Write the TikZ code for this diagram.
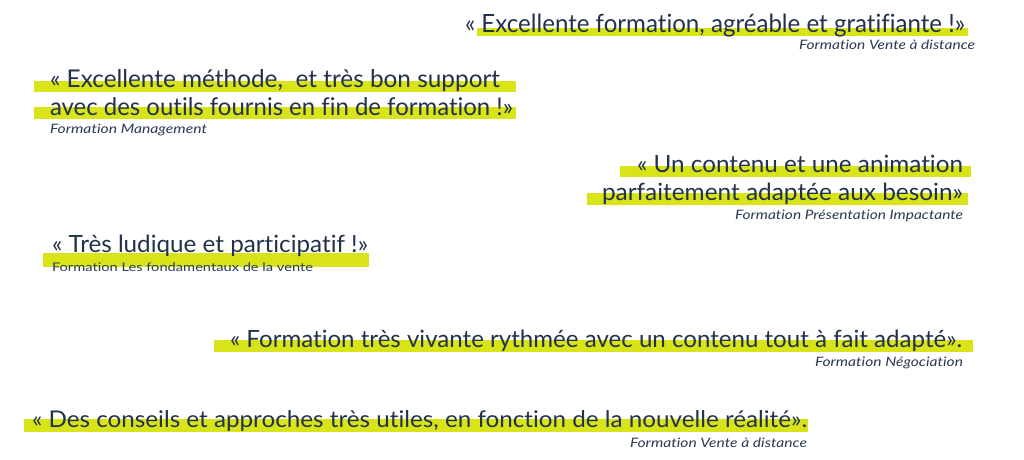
\documentclass[tikz,border=0pt]{standalone}
\usepackage{fontspec}
\setmainfont{Lato}[Ligatures={NoCommon}]
\usepackage{graphicx}
\definecolor{ink}{HTML}{22324C}
\definecolor{capink}{HTML}{2B3A55}
\definecolor{hl}{HTML}{D8E417}
\newcommand\fitt[3]{\resizebox{#1pt}{#2pt}{\vphantom{E}\smash{#3}}}
\tikzset{
  hlbar/.style={fill=hl, draw=none},
  quote/.style={anchor=base west, inner sep=0pt, outer sep=0pt, text=ink},
  source/.style={anchor=base west, inner sep=0pt, outer sep=0pt, text=capink, font=\itshape},
  sourceup/.style={anchor=base west, inner sep=0pt, outer sep=0pt, text=capink},
}
\begin{document}
\begin{tikzpicture}[x=1pt, y=-1pt]
\useasboundingbox (0,0) rectangle (1024,459);
\fill[white] (0,0) rectangle (1024,459);
% highlight bars
\fill[hlbar] (477,28) rectangle (968,35.5);
\fill[hlbar] (34,81) rectangle (516,92);
\fill[hlbar] (34,107) rectangle (516,119);
\fill[hlbar] (620,166) rectangle (971,177);
\fill[hlbar] (587,193) rectangle (968,205);
\fill[hlbar] (43,253) rectangle (369,267);
\fill[hlbar] (214,340) rectangle (973,352);
\fill[hlbar] (24,419) rectangle (808,432);
% quotes
\node[quote] (q1) at (465,32) {\fitt{500}{18}{« Excellente formation, agréable et gratifiante !»}};
\node[source] (s1) at (799,49) {\fitt{176}{9.3}{Formation Vente à distance}};
\node[quote] (q2a) at (50,87) {\fitt{450}{17.5}{« Excellente méthode,\ \ et très bon support}};
\node[quote] (q2b) at (50,115) {\fitt{463}{17.5}{avec des outils fournis en fin de formation !»}};
\node[source] (s2) at (50,133) {\fitt{157}{9.3}{Formation Management}};
\node[quote] (q3a) at (637,172) {\fitt{326}{17}{« Un contenu et une animation}};
\node[quote] (q3b) at (602,200) {\fitt{361}{17}{parfaitement adaptée aux besoin»}};
\node[source] (s3) at (735,219) {\fitt{228}{9.3}{Formation Présentation Impactante}};
\node[quote] (q4) at (52,252) {\fitt{316}{17}{« Très ludique et participatif !»}};
\node[sourceup] (s4) at (52,271) {\fitt{261}{8.5}{Formation Les fondamentaux de la vente}};
\node[quote] (q5) at (230,347) {\fitt{732}{17}{« Formation très vivante rythmée avec un contenu tout à fait adapté».}};
\node[source] (s5) at (815,366) {\fitt{148}{9.3}{Formation Négociation}};
\node[quote] (q6) at (32,427) {\fitt{775}{16.5}{« Des conseils et approches très utiles, en fonction de la nouvelle réalité».}};
\node[source] (s6) at (630,447) {\fitt{177}{9.3}{Formation Vente à distance}};
\end{tikzpicture}
\end{document}
